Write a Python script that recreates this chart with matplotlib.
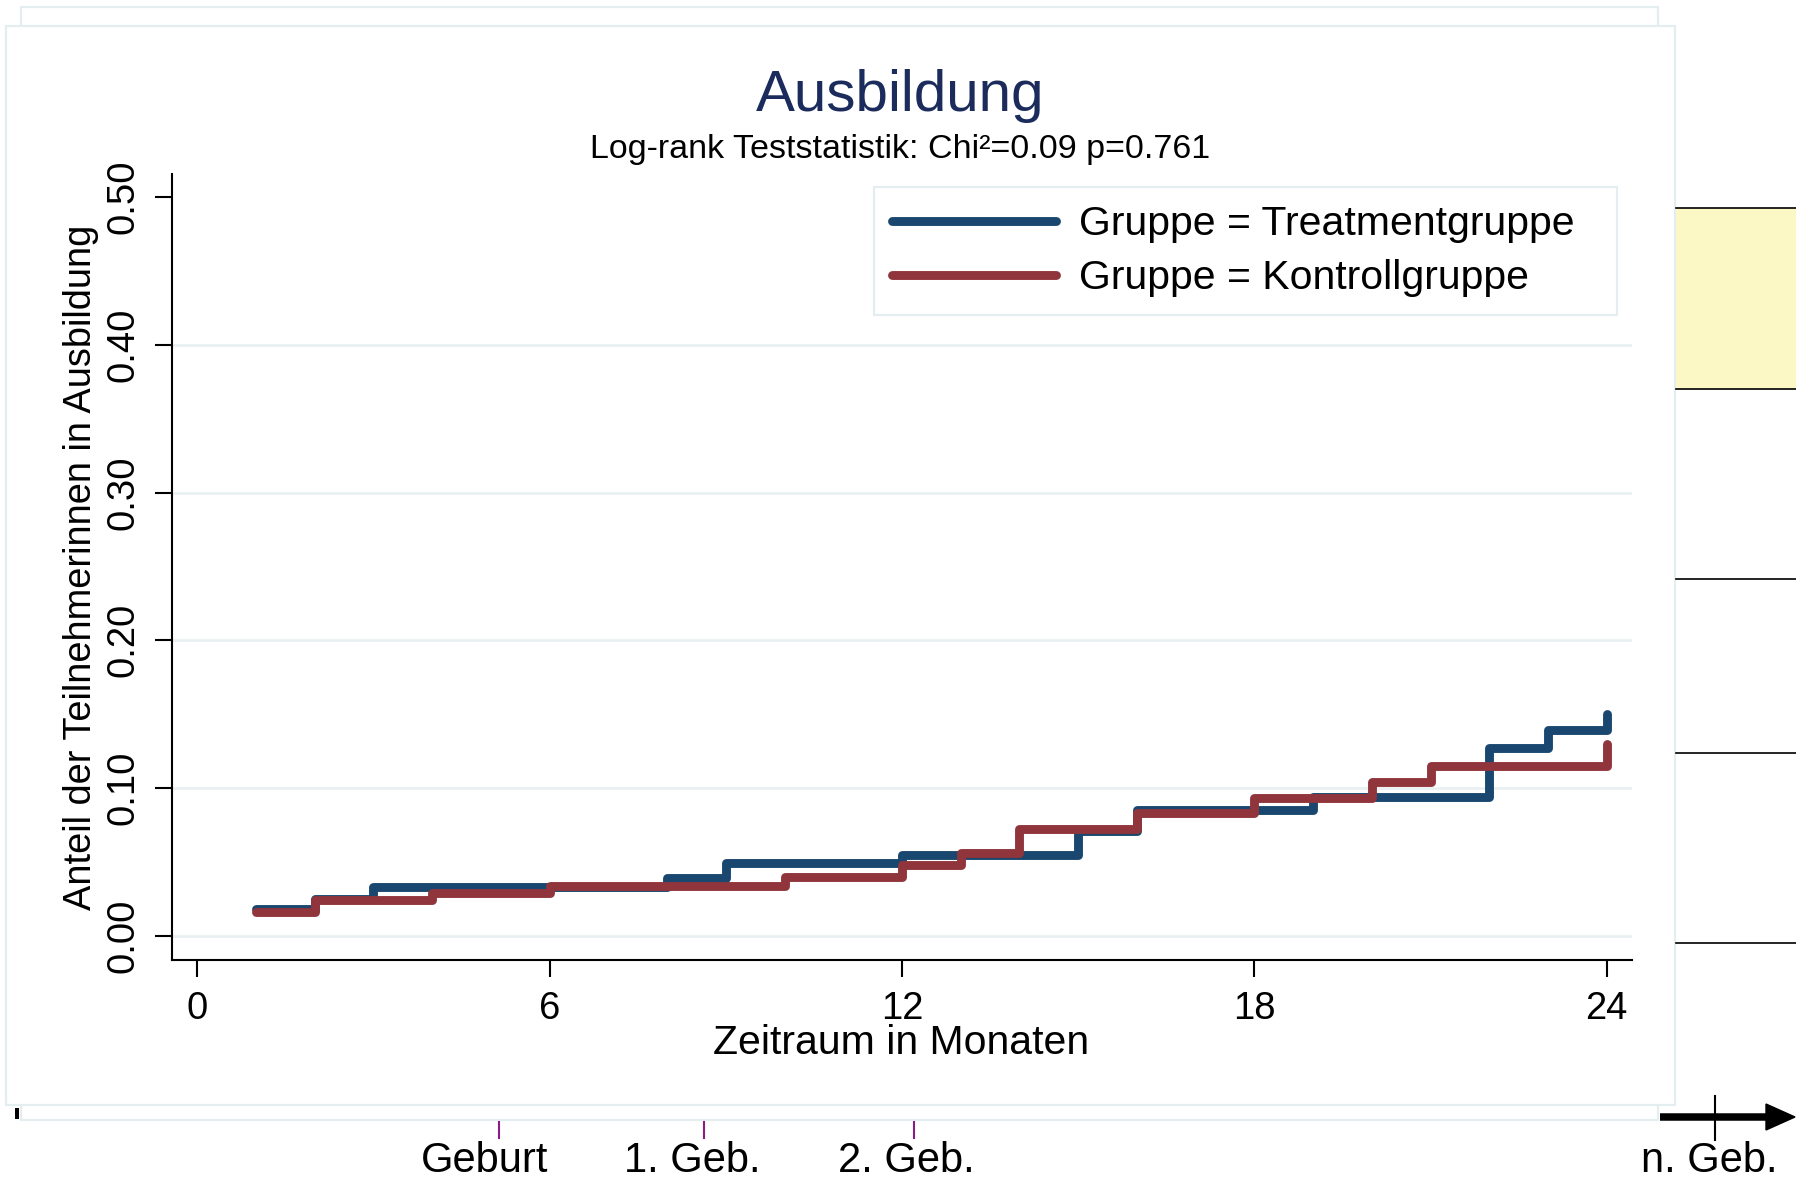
import matplotlib
matplotlib.use('Agg')
import matplotlib.pyplot as plt
from matplotlib.patches import Rectangle, Polygon

# Kaplan-Meier Verlauf (Anteil in Ausbildung) je Monat
months = list(range(1, 25))
treatment = [0.018, 0.025, 0.033, 0.033, 0.033, 0.033, 0.033, 0.039,
             0.049, 0.049, 0.049, 0.055, 0.055, 0.055, 0.071, 0.085,
             0.085, 0.085, 0.094, 0.094, 0.094, 0.127, 0.139, 0.150]
kontroll = [0.016, 0.024, 0.024, 0.029, 0.029, 0.034, 0.034, 0.034,
            0.034, 0.040, 0.040, 0.048, 0.056, 0.072, 0.072, 0.083,
            0.083, 0.093, 0.093, 0.104, 0.115, 0.115, 0.115, 0.130]
series_labels = ['Gruppe = Treatmentgruppe', 'Gruppe = Kontrollgruppe']
xticks = [0, 6, 12, 18, 24]
yticks = [0.0, 0.1, 0.2, 0.3, 0.4, 0.5]
events = ['Geburt', '1. Geb.', '2. Geb.']

blue = '#1a476f'
red = '#90353b'
navy = '#1b2b5c'
light = '#e4eef0'

plt.rcParams['font.family'] = ['Liberation Sans', 'DejaVu Sans']

W, H = 1796, 1178
fig = plt.figure(figsize=(W / 100, H / 100), dpi=100)

# Hintergrund in Pixelkoordinaten (Folien-Dekoration)
bg = fig.add_axes([0, 0, 1, 1])
bg.set_xlim(0, W)
bg.set_ylim(H, 0)
bg.axis('off')
bg.add_patch(Rectangle((21, 7), 1637, 1113, fc='white', ec=light, lw=1.6))
bg.add_patch(Rectangle((6, 26), 1669, 1079, fc='white', ec=light, lw=1.6))
bg.add_patch(Rectangle((1676, 208), 120, 181, fc='#fbf8c6', ec='none'))
for yy in [208, 389, 579, 753, 943]:
    bg.plot([1676, 1796], [yy, yy], color='black', lw=1.2)
bg.plot([1660, 1772], [1117, 1117], color='black', lw=5.4, solid_capstyle='butt')
bg.add_patch(Polygon([[1766, 1104], [1795, 1117], [1766, 1130]], closed=True, color='black'))
bg.plot([1715, 1715], [1096, 1140], color='black', lw=1.5)
bg.add_patch(Rectangle((15, 1108), 4, 11, fc='black', ec='none'))

for lab, xt, xl in zip(events, [499, 704, 914], [485, 692, 906]):
    bg.plot([xt, xt], [1122, 1138], color='#8b1a8b', lw=1.5)
    bg.text(xl, 1172, lab, ha='center', va='baseline', fontsize=30)
bg.text(1709, 1172, 'n. Geb.', ha='center', va='baseline', fontsize=30)

# Titel
bg.text(900, 111, 'Ausbildung', ha='center', va='baseline', fontsize=42, color=navy)
bg.text(900, 158, 'Log-rank Teststatistik: Chi\u00b2=0.09 p=0.761', ha='center',
        va='baseline', fontsize=24.5)
bg.text(81, 567, 'Anteil der Teilnehmerinnen in Ausbildung', rotation=90,
        ha='center', va='center', fontsize=27.4)
bg.text(901, 1054, 'Zeitraum in Monaten', ha='center', va='baseline', fontsize=29.5)

# Diagramm
ax = fig.add_axes([172 / W, 1 - 960 / H, 1460 / W, 786 / H])
ax.set_facecolor('none')
for v in yticks[:-1]:
    ax.axhline(v, color='#e8f0f1', lw=1.8, zorder=0)
ax.step(months, treatment, where='post', color=blue, lw=6.4, label=series_labels[0],
        solid_capstyle='round', solid_joinstyle='round')
ax.step(months, kontroll, where='post', color=red, lw=6.4, label=series_labels[1],
        solid_capstyle='round', solid_joinstyle='round')

ax.set_xlim(-0.43, 24.43)
ax.set_ylim(-0.0164, 0.5156)
ax.set_xticks(xticks)
ax.set_yticks(yticks)
ax.set_yticklabels(['%.2f' % v for v in yticks])
plt.setp(ax.get_yticklabels(), rotation=90, va='center')
ax.tick_params(length=12, width=1.5, labelsize=27.5, pad=10)
for s in ['top', 'right']:
    ax.spines[s].set_visible(False)
for s in ['left', 'bottom']:
    ax.spines[s].set_linewidth(1.5)

leg = ax.legend(loc='upper left', bbox_to_anchor=(0.4808, 0.8308, 0.5089, 0.1527),
                mode='expand', borderaxespad=0, fontsize=29.5, handlelength=4.0,
                handletextpad=0.55, labelspacing=0.38, borderpad=0.45,
                fancybox=False, edgecolor=light, framealpha=1)
leg.get_frame().set_linewidth(1.6)

fig.savefig('out.png', dpi=100)
